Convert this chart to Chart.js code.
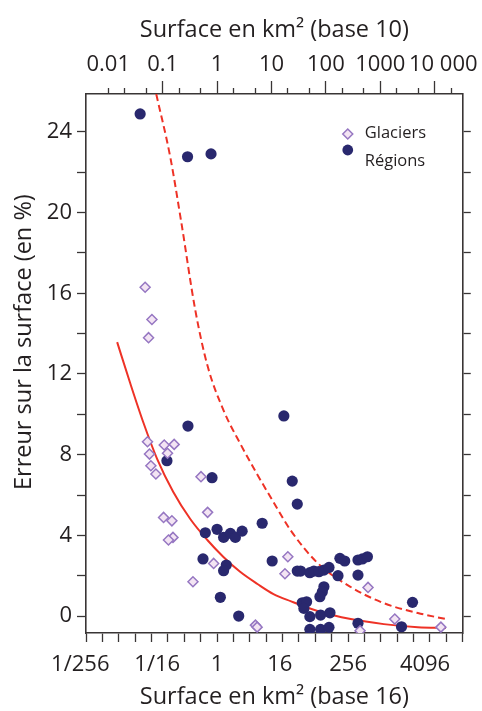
<!DOCTYPE html>
<html><head><meta charset="utf-8">
<script src="https://cdn.jsdelivr.net/npm/chart.js@4.4.1/dist/chart.umd.min.js"></script>
<style>html,body{margin:0;padding:0;background:#fff;}#wrap{width:482px;height:711px;}</style>
</head><body><div id="wrap"><canvas id="c" width="482" height="711"></canvas></div>
<script>
// ---- data (area in km², error in %) ----
const glacierArea  = [0.0477,0.0636,0.0551,0.0527,0.107,0.163,0.123,0.0573,0.0608,0.0752,0.507,0.671,0.104,0.148,0.155,0.128,0.866,0.361,20.0,17.7,5.08,5.46,595,1847,13000,425];
const glacierError = [16.3,14.7,13.8,8.64,8.48,8.51,8.07,8.03,7.45,7.04,6.91,5.14,4.89,4.72,3.90,3.77,2.61,1.70,2.94,2.10,-0.45,-0.55,1.42,-0.15,-0.55,-0.73];
const regionArea  = [0.0386,0.287,0.775,0.292,0.120,0.809,16.9,24.1,29.8,6.75,0.609,1.00,1.32,1.76,2.17,2.89,0.552,1.48,1.32,10.3,1.15,2.50,29.8,34.3,50.8,60.2,74.4,92.0,114,167,181,222,389,469,580,389,92.0,86.0,77.7,36.8,44.2,39.4,50.8,80.0,119,50.8,80.0,114,389,3912,2454];
const regionError = [24.89,22.77,22.91,9.42,7.70,6.86,9.92,6.69,5.55,4.60,4.13,4.30,3.90,4.10,3.90,4.21,2.83,2.53,2.25,2.73,0.93,0.0,2.23,2.23,2.15,2.23,2.20,2.28,2.41,2.00,2.86,2.73,2.78,2.83,2.94,2.03,1.45,1.20,0.96,0.66,0.71,0.38,-0.03,0.05,0.16,-0.66,-0.66,-0.56,-0.36,0.68,-0.53];
const curveArea  = [0.0146,0.0253,0.0439,0.0795,0.157,0.322,0.663,1.31,2.69,5.53,10.9,22.4,70.4,286,1158,4898,16060];
const curveError = [13.58,11.55,9.62,7.78,6.15,4.81,3.77,2.93,2.18,1.59,1.09,0.74,0.25,-0.15,-0.40,-0.55,-0.59];
const upperArea  = [0.0763,0.138,0.220,0.398,0.663,1.31,2.69,5.30,10.9,22.4,70.4,286,1158,4898,16060];
const upperError = [25.88,22.76,19.53,15.17,12.44,10.21,8.53,7.09,5.65,4.26,2.63,1.44,0.64,0.15,-0.15];

// ---- axes ticks / labels ----
const base16Ticks = [0.00390625,0.0078125,0.015625,0.03125,0.0625,0.125,0.25,0.5,1,2,4,8,16,32,64,128,256,512,1024,2048,4096,8192,16384,32768];
const base16LabelValues = [0.00390625,0.0625,1,16,256,4096];
const base16LabelTexts  = ['1/256','1/16','1','16','256','4096'];
const base10MajorTicks = [0.01,0.1,1,10,100,1000,10000];
const base10MinorTicks = [0.01,0.02,0.05,0.2,0.5,2,5,20,50,200,500,2000,5000,20000];
const base10LabelTexts = ['0.01','0.1','1','10','100','1000','10 000'];
const errorTicks = [0,2,4,6,8,10,12,14,16,18,20,22,24];
const errorLabelValues = [0,4,8,12,16,20,24];
const xMin = 0.00390625, xMax = 32768, yMin = -0.84, yMax = 25.88;

// small visual nudges of some labels (number of leading / trailing spaces)
const NB = '\u00a0';
const labelNudge = {'1/256': [0,2], '1/16': [2,0], '16': [0,1], '4096': [4,0], '10 000': [3,0]};
const nudge = t => { const n = labelNudge[t]; return n ? NB.repeat(n[0]) + t + NB.repeat(n[1]) : t; };

const ink = '#231f20', frame = '#393535', FONT = "'Open Sans', sans-serif";
const same = (a,b) => a === b || Math.abs(a/b - 1) < 1e-6;
const setTicks = vals => scale => { scale.ticks = vals.map(v => ({value: v})); };
const labeler = (vals, texts) => v => { const i = vals.findIndex(x => same(x, v)); return i >= 0 ? nudge(texts[i]) : ''; };
const pts = (xs, ys) => xs.map((x,i) => ({x: x, y: ys[i]}));

const diamondStroke = '#9677c2', diamondFill = '#f3e4f3', navy = '#29286e', red = '#ee3226';

const insideLegend = {
  id: 'insideLegend',
  afterDatasetsDraw(chart) {
    const {ctx, chartArea: a} = chart;
    ctx.save();
    const mx = a.right - 115;
    const y1 = a.top + 40, y2 = a.top + 56;
    ctx.beginPath();
    ctx.moveTo(mx - 5, y1); ctx.lineTo(mx, y1 - 5); ctx.lineTo(mx + 5, y1); ctx.lineTo(mx, y1 + 5); ctx.closePath();
    ctx.fillStyle = diamondFill; ctx.fill();
    ctx.lineWidth = 1.5; ctx.strokeStyle = diamondStroke; ctx.stroke();
    ctx.beginPath(); ctx.arc(mx, y2, 5.4, 0, Math.PI*2); ctx.fillStyle = navy; ctx.fill();
    ctx.fillStyle = ink; ctx.font = "16.5px 'Open Sans', sans-serif"; ctx.textBaseline = 'middle'; ctx.textAlign = 'left';
    ctx.fillText('Glaciers', a.right - 98, a.top + 39);
    ctx.fillText('Régions', a.right - 98, a.top + 67);
    ctx.restore();
  }
};

new Chart(document.getElementById('c'), {
  type: 'scatter',
  data: { datasets: [
    {label: 'Glaciers', data: pts(glacierArea, glacierError), pointStyle: 'rectRot', pointRadius: 5, pointBorderWidth: 1.5,
     borderColor: diamondStroke, backgroundColor: diamondFill, clip: 0, xAxisID: 'x', yAxisID: 'y'},
    {label: 'Régions', data: pts(regionArea, regionError), pointStyle: 'circle', pointRadius: 5.6, pointBorderWidth: 0,
     borderColor: navy, backgroundColor: navy, clip: 0, xAxisID: 'x', yAxisID: 'y'},
    {label: 'courbe', type: 'line', data: pts(curveArea, curveError), pointRadius: 0, borderColor: red, borderWidth: 2,
     cubicInterpolationMode: 'monotone', fill: false, clip: 0, xAxisID: 'x', yAxisID: 'y'},
    {label: 'courbe haute', type: 'line', data: pts(upperArea, upperError), pointRadius: 0, borderColor: red, borderWidth: 2,
     borderDash: [7,4], cubicInterpolationMode: 'monotone', fill: false, clip: 0, xAxisID: 'x', yAxisID: 'y'}
  ]},
  options: {
    responsive: false, animation: false, devicePixelRatio: 1,
    layout: {padding: 0},
    plugins: {legend: {display: false}, tooltip: {enabled: false}},
    scales: {
      x: {type: 'logarithmic', position: 'bottom', min: xMin, max: xMax,
        afterBuildTicks: setTicks(base16Ticks),
        afterFit: s => { s.height = 78; },
        ticks: {autoSkip: false, maxRotation: 0, padding: 10, color: ink, font: {family: FONT, size: 22},
          callback: labeler(base16LabelValues, base16LabelTexts)},
        grid: {drawOnChartArea: false, drawTicks: true, tickLength: 9, tickColor: frame, tickWidth: 1.3},
        border: {display: true, color: frame, width: 1.6},
        title: {display: true, text: 'Surface en km² (base 16)', color: ink, font: {family: FONT, size: 23.5}, padding: {top: 0, bottom: 0}}
      },
      xTop: {type: 'logarithmic', position: 'top', min: xMin, max: xMax, weight: 1,
        afterBuildTicks: setTicks(base10MajorTicks),
        afterFit: s => { s.height = 94; },
        ticks: {autoSkip: false, maxRotation: 0, padding: 3, color: ink, font: {family: FONT, size: 22},
          callback: labeler(base10MajorTicks, base10LabelTexts)},
        grid: {drawOnChartArea: false, drawTicks: true, tickLength: 13, tickWidth: 1.3,
          tickColor: c => (c.tick && same(c.tick.value, 0.01)) ? 'rgba(0,0,0,0)' : frame},
        border: {display: true, color: frame, width: 1.6},
        title: {display: true, text: 'Surface en km² (base 10)', color: ink, font: {family: FONT, size: 23.5}, padding: {top: 16, bottom: 0}}
      },
      xTopMinor: {type: 'logarithmic', position: 'top', min: xMin, max: xMax, weight: 0,
        afterBuildTicks: setTicks(base10MinorTicks),
        afterFit: s => { s.height = 0; },
        ticks: {display: false, autoSkip: false},
        grid: {drawOnChartArea: false, drawTicks: true, tickLength: 6, tickWidth: 1.3, tickColor: frame},
        border: {display: false}
      },
      y: {type: 'linear', position: 'left', min: yMin, max: yMax,
        afterBuildTicks: setTicks(errorTicks),
        afterFit: s => { s.width = 86; },
        ticks: {autoSkip: false, padding: 5, color: ink, font: {family: FONT, size: 22},
          callback: v => errorLabelValues.includes(v) ? String(v) : ''},
        grid: {drawOnChartArea: false, drawTicks: true, tickLength: 9, tickWidth: 1.3, tickColor: frame},
        border: {display: true, color: frame, width: 1.6},
        title: {display: true, text: NB.repeat(7) + 'Erreur sur la surface (en %)', color: ink, font: {family: FONT, size: 23.5}, padding: {top: 10, bottom: 0}}
      },
      yRight: {type: 'linear', position: 'right', min: yMin, max: yMax,
        afterBuildTicks: setTicks(errorTicks),
        afterFit: s => { s.width = 19; },
        ticks: {display: false, autoSkip: false},
        grid: {drawOnChartArea: false, drawTicks: true, tickLength: 8, tickWidth: 1.3, tickColor: frame},
        border: {display: true, color: frame, width: 1.6}
      }
    }
  },
  plugins: [insideLegend]
});
</script></body></html>
